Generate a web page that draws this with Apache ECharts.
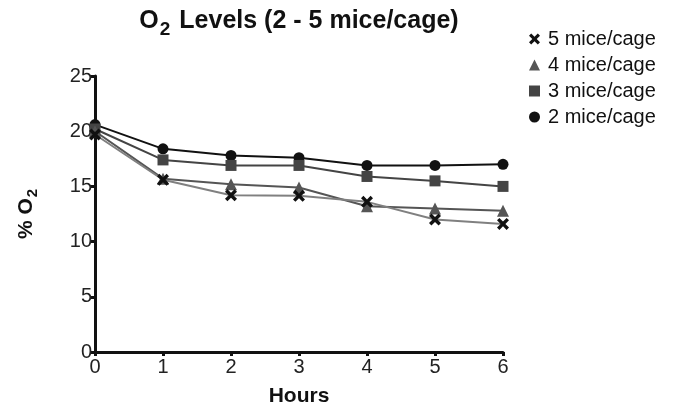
<!DOCTYPE html>
<html>
<head>
<meta charset="utf-8">
<script src="https://cdn.jsdelivr.net/npm/echarts@6/dist/echarts.min.js"></script>
<style>
  html, body { margin: 0; padding: 0; background: #fff; }
  #main { width: 680px; height: 405px; }
</style>
</head>
<body>
<div id="main"></div>
<script>
const hours = ['0', '1', '2', '3', '4', '5', '6'];
const mice5 = [19.7, 15.6, 14.2, 14.15, 13.6, 12.0, 11.6];
const mice4 = [20.0, 15.7, 15.2, 14.9, 13.2, 13.0, 12.8];
const mice3 = [20.2, 17.4, 16.9, 16.9, 15.9, 15.5, 15.0];
const mice2 = [20.6, 18.4, 17.8, 17.6, 16.9, 16.9, 17.0];

const xIcon = 'path://M0,2 L2,0 L5,3 L8,0 L10,2 L7,5 L10,8 L8,10 L5,7 L2,10 L0,8 L3,5 Z';

let chart = echarts.init(document.getElementById('main'));

const font = 'Liberation Sans, Arial, sans-serif';

function line(name, data, symbol, size, markColor, lineColor) {
  return {
    name: name,
    type: 'line',
    data: data,
    symbol: symbol,
    symbolSize: size,
    showSymbol: true,
    animation: false,
    itemStyle: { color: markColor },
    lineStyle: { color: lineColor, width: 2 }
  };
}

const option = {
  backgroundColor: '#fff',
  title: {
    text: '{a|O}{s|2}{a| Levels (2 - 5 mice/cage)}',
    left: 294,
    textAlign: 'center',
    top: 4,
    textStyle: {
      rich: {
        a: { fontFamily: font, fontWeight: 'bold', fontSize: 25, color: '#111', verticalAlign: 'top', lineHeight: 30 },
        s: { fontFamily: font, fontWeight: 'bold', fontSize: 19, color: '#111', verticalAlign: 'top', lineHeight: 30, padding: [11, 2, 0, 1] }
      }
    }
  },
  legend: {
    orient: 'vertical',
    left: 524,
    top: 24,
    itemGap: 6,
    itemWidth: 11,
    itemHeight: 11,
    textStyle: { fontFamily: font, fontSize: 20, color: '#111', padding: [0, 0, 0, 3] },
    data: [
      { name: '5 mice/cage', icon: xIcon, itemStyle: { color: '#111' } },
      { name: '4 mice/cage', icon: 'triangle', itemStyle: { color: '#555' } },
      { name: '3 mice/cage', icon: 'rect', itemStyle: { color: '#444' } },
      { name: '2 mice/cage', icon: 'circle', itemStyle: { color: '#111' } }
    ]
  },
  grid: { left: 95, right: 177, top: 76, bottom: 53, outerBoundsMode: 'none' },
  xAxis: {
    type: 'category',
    data: hours,
    boundaryGap: false,
    name: 'Hours',
    nameLocation: 'middle',
    nameGap: 34,
    nameTextStyle: { fontFamily: font, fontWeight: 'bold', fontSize: 21, color: '#111' },
    axisLine: { lineStyle: { color: '#111', width: 3 } },
    axisTick: { alignWithLabel: true, length: 4, lineStyle: { color: '#111', width: 3 } },
    axisLabel: { fontFamily: font, fontSize: 20, color: '#222', margin: 5 },
    splitLine: { show: false }
  },
  yAxis: {
    type: 'value',
    min: 0,
    max: 25,
    interval: 5,
    name: '{a|% O}{s|2}',
    nameLocation: 'middle',
    nameRotate: 90,
    nameGap: 51,
    nameTextStyle: {
      rich: {
        a: { fontFamily: font, fontWeight: 'bold', fontSize: 21, color: '#111', lineHeight: 28, verticalAlign: 'top' },
        s: { fontFamily: font, fontWeight: 'bold', fontSize: 15, color: '#111', lineHeight: 28, verticalAlign: 'top', padding: [9, 0, 0, 1] }
      }
    },
    axisLine: { show: true, lineStyle: { color: '#111', width: 3 } },
    axisTick: { show: true, length: 5, lineStyle: { color: '#111', width: 3 } },
    axisLabel: { fontFamily: font, fontSize: 20, color: '#222', margin: 3 },
    splitLine: { show: false }
  },
  series: [
    line('2 mice/cage', mice2, 'circle', 11, '#111', '#111'),
    line('3 mice/cage', mice3, 'rect', 11, '#444', '#444'),
    line('4 mice/cage', mice4, 'triangle', 12, '#555', '#555'),
    line('5 mice/cage', mice5, xIcon, 12, '#111', '#808080')
  ]
};

chart.setOption(option);
</script>
</body>
</html>
